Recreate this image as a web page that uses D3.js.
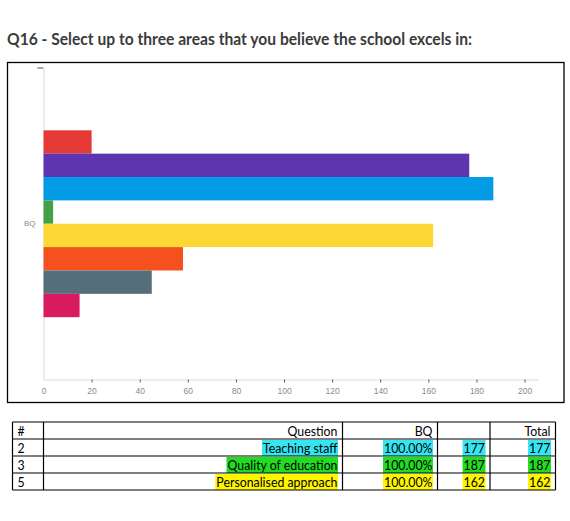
<!DOCTYPE html>
<html>
<head>
<meta charset="utf-8">
<script src="https://cdn.jsdelivr.net/npm/d3@7"></script>
<style>
  body { margin: 0; background: #fff; }
  svg { display: block; }
</style>
</head>
<body>
<script>
  // chart data
  var categories = ["BQ"];
  var seriesKeys = ["1", "2", "3", "4", "5", "6", "7", "8"];
  var seriesValues = [20, 177, 187, 4, 162, 58, 45, 15];
  var xTickValues = [0, 20, 40, 60, 80, 100, 120, 140, 160, 180, 200];

  // table data
  var tableHeader = ["#", "Question", "BQ", "", "Total"];
  var rowNums = ["2", "3", "5"];
  var rowQuestions = ["Teaching staff", "Quality of education", "Personalised approach"];
  var rowPercents = ["100.00%", "100.00%", "100.00%"];
  var rowCounts = [177, 187, 162];
  var rowTotals = [177, 187, 162];

  var palette = ["#E53935", "#5E35B1", "#039BE5", "#43A047", "#FDD835", "#F4511E", "#546E7A", "#D81B60"];
  var highlight = ["#33e6f2", "#22dc22", "#fff500"];

  var svg = d3.select("body").append("svg")
      .attr("width", 570)
      .attr("height", 521);

  svg.append("text")
      .attr("x", 7)
      .attr("y", 45)
      .attr("font-family", "Lato, 'Open Sans', sans-serif")
      .attr("font-weight", "bold")
      .attr("font-size", 17)
      .attr("fill", "#3b3b3b")
      .attr("textLength", 465)
      .attr("lengthAdjust", "spacingAndGlyphs")
      .text("Q16 - Select up to three areas that you believe the school excels in:");

  // chart frame
  svg.append("rect")
      .attr("x", 7.5).attr("y", 62.5)
      .attr("width", 556.5).attr("height", 340)
      .attr("fill", "none")
      .attr("stroke", "#000")
      .attr("stroke-width", 1.3);

  var x = d3.scaleLinear()
      .domain([0, d3.max(seriesValues) * 1.1])
      .range([43.5, 538.3]);

  var y = d3.scaleBand()
      .domain(categories)
      .range([68, 379.5])
      .padding(0.25);

  var ySub = d3.scaleBand()
      .domain(seriesKeys)
      .range([0, y.bandwidth()]);

  // x axis
  var xAxis = svg.append("g")
      .attr("transform", "translate(0,379.5)")
      .call(d3.axisBottom(x).tickValues(xTickValues).tickSize(3).tickSizeOuter(0).tickPadding(5));
  xAxis.select(".domain").attr("stroke", "#dcdcdc");
  xAxis.selectAll(".tick line").attr("stroke", "#555")
      .attr("display", function (d) { return d === 0 ? "none" : null; });
  xAxis.selectAll(".tick text")
      .attr("fill", "#8a8a8a")
      .attr("font-family", "'Liberation Sans', Arial, sans-serif")
      .attr("font-size", 8.5);

  // y axis
  var yAxis = svg.append("g")
      .attr("transform", "translate(43.5,0)")
      .call(d3.axisLeft(y).tickSize(0).tickSizeOuter(0).tickPadding(8));
  yAxis.select(".domain").attr("stroke", "#dcdcdc");
  yAxis.selectAll(".tick text")
      .attr("fill", "#8a8a8a")
      .attr("font-family", "'Liberation Sans', Arial, sans-serif")
      .attr("font-size", 8);
  yAxis.append("line")
      .attr("x1", -6).attr("x2", 0)
      .attr("y1", y.range()[0]).attr("y2", y.range()[0])
      .attr("stroke", "#555");

  // bars
  var bars = seriesKeys.map(function (k, i) {
    return {key: k, cat: categories[0], value: seriesValues[i], color: palette[i]};
  });
  svg.append("g").selectAll("rect")
      .data(bars)
      .enter()
    .append("rect")
      .attr("x", x(0))
      .attr("y", function (d) { return y(d.cat) + ySub(d.key); })
      .attr("width", function (d) { return x(d.value) - x(0); })
      .attr("height", ySub.bandwidth())
      .attr("fill", function (d) { return d.color; });

  // table
  var colEdges = [12.5, 43.5, 342.5, 437.5, 490, 555.5];
  var rowTop = 422, rowH = 17;
  var tbl = svg.append("g")
      .attr("font-family", "Lato, 'Open Sans', sans-serif")
      .attr("font-size", 14)
      .attr("fill", "#000");

  var rows = [tableHeader].concat(rowNums.map(function (n, i) {
    return [n, rowQuestions[i], rowPercents[i], String(rowCounts[i]), String(rowTotals[i])];
  }));

  rows.forEach(function (row, r) {
    var yTop = rowTop + r * rowH;
    row.forEach(function (cell, c) {
      if (cell === "") return;
      var left = c === 0;
      var tx = left ? colEdges[c] + 5 : colEdges[c + 1] - 5;
      var t = tbl.append("text")
          .attr("x", tx)
          .attr("y", yTop + 13.5)
          .attr("text-anchor", left ? "start" : "end")
          .text(cell);
      // narrow the glyphs a little, closer to the original Calibri
      var w = t.node().getComputedTextLength() * 0.88;
      t.attr("textLength", w).attr("lengthAdjust", "spacingAndGlyphs");
      if (r > 0 && c > 0) {
        tbl.insert("rect", "text")
            .attr("x", tx - w - 1)
            .attr("y", yTop + 1)
            .attr("width", w + 1.5)
            .attr("height", rowH - 1)
            .attr("fill", highlight[r - 1]);
      }
    });
  });

  var grid = svg.append("g").attr("stroke", "#000").attr("stroke-width", 1.2);
  d3.range(rows.length + 1).forEach(function (r) {
    grid.append("line")
        .attr("x1", colEdges[0]).attr("x2", colEdges[colEdges.length - 1])
        .attr("y1", rowTop + r * rowH).attr("y2", rowTop + r * rowH);
  });
  colEdges.forEach(function (cx) {
    grid.append("line")
        .attr("x1", cx).attr("x2", cx)
        .attr("y1", rowTop).attr("y2", rowTop + rows.length * rowH);
  });
</script>
</body>
</html>
